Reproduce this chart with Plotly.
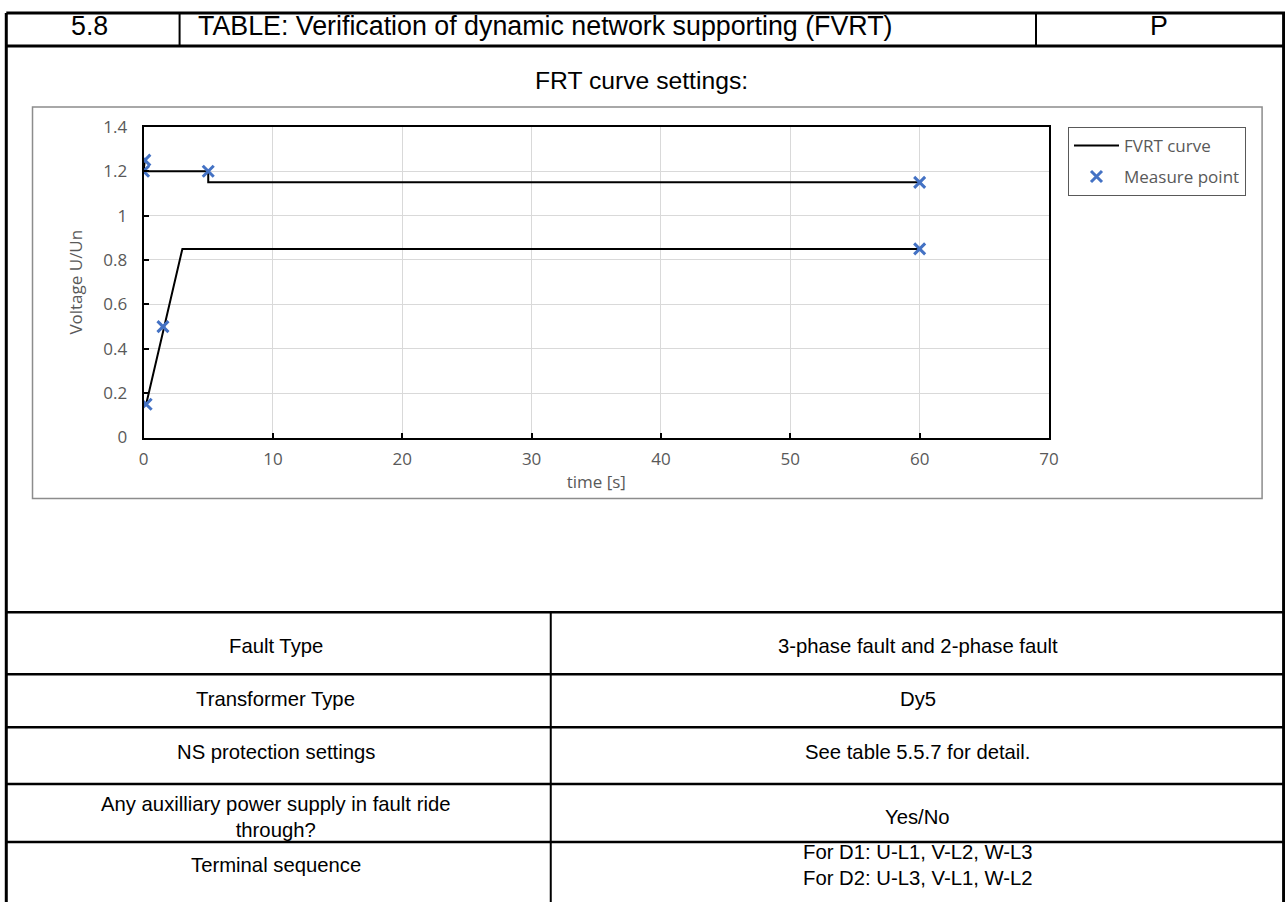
import plotly.graph_objects as go

# FVRT limit curve (None splits the upper and lower limit)
fvrt_t = [0.1, 0, 5, 5, 60, None, 0.2, 3, 60]
fvrt_u = [1.25, 1.2, 1.2, 1.15, 1.15, None, 0.15, 0.85, 0.85]

# measured points
meas_t = [0.1, 0, 5, 60, 60, 1.5, 0.2]
meas_u = [1.25, 1.2, 1.2, 1.15, 0.85, 0.5, 0.15]

header_cells = ["5.8", "TABLE: Verification of dynamic network supporting (FVRT)", "P"]
row_labels = ["Fault Type", "Transformer Type", "NS protection settings",
              "Any auxilliary power supply in fault ride<br>through?", "Terminal sequence"]
row_values = ["3-phase fault and 2-phase fault", "Dy5", "See table 5.5.7 for detail.",
              "Yes/No", "For D1: U-L1, V-L2, W-L3<br>For D2: U-L3, V-L1, W-L2"]

W, H = 1300, 916


# positions below are given in screenshot pixels, mapped onto the page
def fx(x):
    return min(max((x - 5.5) / 0.988 / W, 0.001), 0.999)


def fy(y):
    return min(max(1 - (y - 10) / 0.976 / H, 0.001), 0.999)


fig = go.Figure()
fig.add_trace(go.Scatter(x=fvrt_t, y=fvrt_u, mode="lines", name="FVRT curve",
                         line=dict(color="black", width=2), legendgroup="a"))
fig.add_trace(go.Scatter(x=meas_t, y=meas_u, mode="markers", name="Measure point",
                         marker=dict(symbol="x-thin", size=11, color="#4472c4",
                                     line=dict(color="#4472c4", width=3)),
                         legendgroup="b"))

gray = "#595959"
axfont = dict(family="Open Sans", size=17, color=gray)

fig.update_xaxes(domain=[fx(144), fx(1049)], range=[0, 70], dtick=10,
                 showgrid=True, gridcolor="#d9d9d9", gridwidth=1, zeroline=False,
                 showline=True, linecolor="black", linewidth=2, mirror=True,
                 ticks="inside", ticklen=5, tickwidth=2, tickcolor="black",
                 tickfont=axfont, ticklabelstandoff=5,
                 title=dict(text="time [s]", font=axfont, standoff=7))
fig.update_yaxes(domain=[fy(436), fy(125)], range=[0, 1.4], dtick=0.2,
                 showgrid=True, gridcolor="#d9d9d9", gridwidth=1, zeroline=False,
                 showline=True, linecolor="black", linewidth=2, mirror=True,
                 ticks="inside", ticklen=5, tickwidth=2, tickcolor="black",
                 tickfont=axfont, ticklabelstandoff=11,
                 title=dict(text="Voltage U/Un", font=axfont, standoff=16))

# table grid
shapes = []


def hline(y, x0, x1, w=2.5):
    shapes.append(dict(type="line", xref="paper", yref="paper", x0=fx(x0), x1=fx(x1),
                       y0=fy(y), y1=fy(y), line=dict(color="black", width=w)))


def vline(x, y0, y1, w=2.5):
    shapes.append(dict(type="line", xref="paper", yref="paper", x0=fx(x), x1=fx(x),
                       y0=fy(y0), y1=fy(y1), line=dict(color="black", width=w)))


row_lines = [611, 673, 726, 783, 841]
hline(3, 0, 1285, 3)
hline(44, 0, 1285, 3)
vline(1.5, 3, 902, 3)
vline(1283.5, 3, 902, 3)
vline(180, 3, 44, 2)
vline(1036, 3, 44, 2)
for y in row_lines:
    hline(y, 0, 1285, 2.5)
vline(551, row_lines[0], 902, 2)

# chart area border
shapes.append(dict(type="rect", xref="paper", yref="paper", x0=fx(33), x1=fx(1262),
                   y0=fy(497), y1=fy(105), line=dict(color="#8c8c8c", width=1.5),
                   layer="below"))

anns = []
tfont = dict(family="Liberation Sans", size=26.8, color="black")
anns.append(dict(text=header_cells[0], x=fx(90), y=fy(24), font=tfont))
anns.append(dict(text=header_cells[1], x=fx(196), y=fy(24), xanchor="left", font=tfont))
anns.append(dict(text=header_cells[2], x=fx(1159), y=fy(24), font=tfont))
anns.append(dict(text="FRT curve settings:", x=fx(642), y=fy(79),
                 font=dict(family="Liberation Sans", size=24.7, color="black")))

# visual text centres of the lower table rows
text_y = [646, 699, 752, 817.5, 865]
bfont = dict(family="Liberation Sans", size=20.3, color="black")
for i in range(len(row_labels)):
    yc = text_y[i] - 1.5
    anns.append(dict(text=row_labels[i], x=fx(276), y=fy(yc), font=bfont))
    anns.append(dict(text=row_values[i], x=fx(918), y=fy(yc), font=bfont))

for a in anns:
    a.update(xref="paper", yref="paper", showarrow=False)
    a.setdefault("xanchor", "center")
    a["yanchor"] = "middle"

fig.update_layout(width=W, height=H, autosize=False,
                  margin=dict(l=0, r=0, t=0, b=0),
                  paper_bgcolor="white", plot_bgcolor="white",
                  shapes=shapes, annotations=anns,
                  legend=dict(x=fx(1068), y=fy(125), xanchor="left", yanchor="top",
                              bordercolor=gray, borderwidth=1, bgcolor="white",
                              font=dict(family="Open Sans", size=17, color=gray),
                              tracegroupgap=6, itemwidth=45),
                  showlegend=True)

fig.write_html("out.html", config=dict(displayModeBar=False),
               post_script="document.body.style.margin='0';")
